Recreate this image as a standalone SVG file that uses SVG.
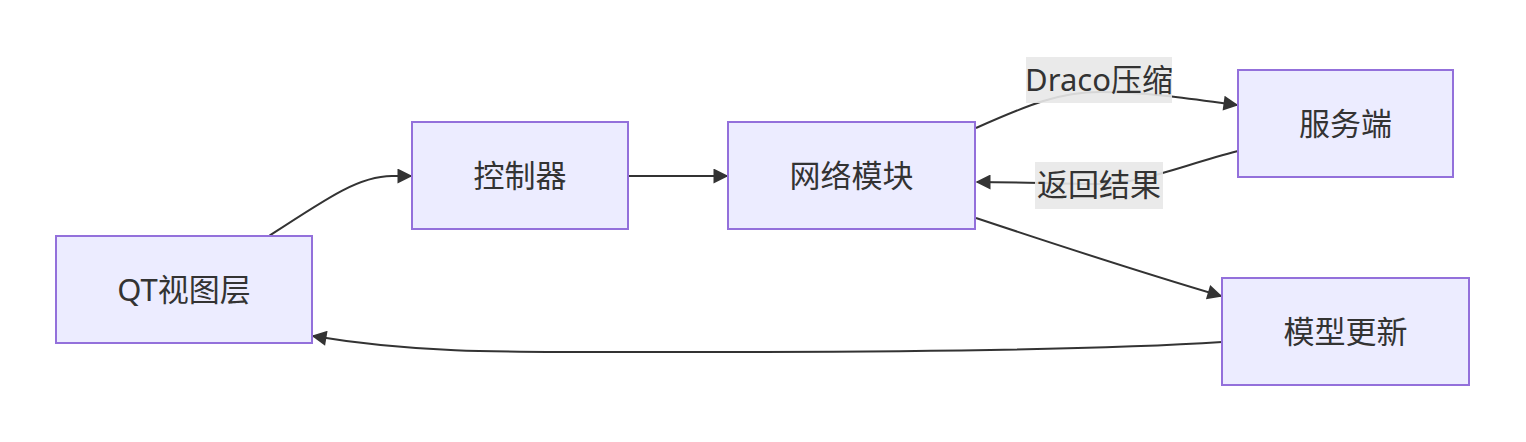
<svg xmlns="http://www.w3.org/2000/svg" width="1526" height="442" viewBox="0 0 1526 442">
<style>
.node rect{fill:#ECECFF;stroke:#9370DB;stroke-width:2}
.node text,.lbl text{font-family:"Noto Sans","Noto Sans CJK SC",sans-serif;font-size:31px;fill:#333;text-anchor:middle;dominant-baseline:central}
.edge{fill:none;stroke:#333;stroke-width:2}
.lbl rect{fill:#e8e8e8;opacity:0.9}
</style>
<defs>
<marker id="arr" viewBox="0 0 10 10" refX="9" refY="5" markerWidth="17" markerHeight="15" markerUnits="userSpaceOnUse" orient="auto">
<path d="M0,0 L10,5 L0,10 z" fill="#333"/>
</marker>
</defs>
<rect width="1526" height="442" fill="#fff"/>
<g id="connectors">
<path class="edge" d="M269,236 C330,196 360,176 392,176 L411,176" marker-end="url(#arr)"/>
<path class="edge" d="M628,176 L727,176" marker-end="url(#arr)"/>
<path class="edge" d="M976,128 C1030,104 1060,92 1100,92 C1150,92 1200,100 1237,105" marker-end="url(#arr)"/>
<path class="edge" d="M1238,151 C1180,166 1140,184 1100,184 C1060,184 1020,182 977,182" marker-end="url(#arr)"/>
<path class="edge" d="M976,218 C1060,246 1140,272 1221,296" marker-end="url(#arr)"/>
<path class="edge" d="M1222,342 C1100,350 900,352 700,352 C500,352 420,354 313,336" marker-end="url(#arr)"/>
</g>
<g class="lbl" id="label-draco">
<rect x="1026" y="57" width="146" height="46"/>
<text x="1099" y="79">Draco压缩</text>
</g>
<g class="lbl" id="label-return">
<rect x="1035" y="162" width="128" height="47"/>
<text x="1099" y="184">返回结果</text>
</g>
<g class="node" id="qt"><rect x="56" y="236" width="256" height="107"/><text x="184" y="288.5">QT视图层</text></g>
<g class="node" id="ctrl"><rect x="412" y="122" width="216" height="107"/><text x="520" y="174.5">控制器</text></g>
<g class="node" id="net"><rect x="728" y="122" width="247" height="107"/><text x="851.5" y="174.5">网络模块</text></g>
<g class="node" id="server"><rect x="1238" y="70" width="215" height="107"/><text x="1345.5" y="122.5">服务端</text></g>
<g class="node" id="model"><rect x="1222" y="278" width="247" height="107"/><text x="1345.5" y="330.5">模型更新</text></g>
</svg>
